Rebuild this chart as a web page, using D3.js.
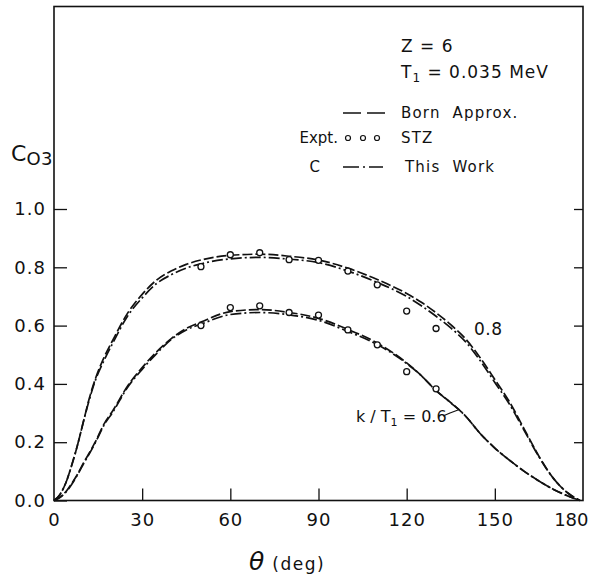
<!DOCTYPE html>
<html>
<head>
<meta charset="utf-8">
<script src="https://cdn.jsdelivr.net/npm/d3@7"></script>
<style>
  body { margin: 0; background: #fff; }
  text { font-family: "DejaVu Sans", sans-serif; fill: #111; }
</style>
</head>
<body>
<div id="chart"></div>
<script>
// Data
const yTicks = [0, 0.2, 0.4, 0.6, 0.8, 1.0];
const xTicks = [0, 30, 60, 90, 120, 150, 180];

// theta grid of the computed curves
const thetaFine = [0, 2, 4, 6, 8, 10, 12, 14, 17, 20, 25, 30, 35, 40, 45, 50, 60, 70, 80, 90, 100, 110, 120, 125, 130, 135, 140, 145, 150, 155, 160, 165, 170, 175, 179];

// k/T1 = 0.8
const born08 = [0, 0.02, 0.06, 0.12, 0.19, 0.27, 0.35, 0.415, 0.49, 0.55, 0.642, 0.707, 0.757, 0.788, 0.81, 0.825, 0.841, 0.845, 0.838, 0.825, 0.797, 0.758, 0.71, 0.68, 0.644, 0.603, 0.555, 0.49, 0.415, 0.338, 0.245, 0.152, 0.075, 0.024, 0];
const work08 = [0, 0.02, 0.06, 0.12, 0.19, 0.27, 0.345, 0.41, 0.48, 0.54, 0.632, 0.695, 0.745, 0.775, 0.797, 0.812, 0.829, 0.834, 0.828, 0.816, 0.787, 0.748, 0.70, 0.668, 0.632, 0.592, 0.545, 0.48, 0.405, 0.33, 0.24, 0.15, 0.075, 0.025, 0];

// k/T1 = 0.6
const born06 = [0, 0.011, 0.03, 0.058, 0.09, 0.128, 0.163, 0.2, 0.262, 0.308, 0.392, 0.456, 0.511, 0.556, 0.59, 0.612, 0.648, 0.655, 0.645, 0.625, 0.587, 0.54, 0.472, 0.428, 0.377, 0.336, 0.29, 0.23, 0.18, 0.138, 0.10, 0.067, 0.038, 0.015, 0];
const work06 = [0, 0.01, 0.028, 0.055, 0.088, 0.125, 0.16, 0.197, 0.258, 0.303, 0.388, 0.45, 0.505, 0.553, 0.585, 0.605, 0.638, 0.645, 0.637, 0.618, 0.58, 0.535, 0.47, 0.428, 0.377, 0.335, 0.29, 0.23, 0.18, 0.138, 0.10, 0.067, 0.038, 0.015, 0];

// STZ experimental points
const thetaExpt = [50, 60, 70, 80, 90, 100, 110, 120, 130];
const stz08 = [0.802, 0.843, 0.850, 0.826, 0.824, 0.787, 0.740, 0.650, 0.590];
const stz06 = [0.600, 0.662, 0.668, 0.645, 0.636, 0.585, 0.534, 0.442, 0.383];

// Setup
const W = 589, H = 578;
const x0 = 54, x1 = 583, yBase = 500.5, yTop = 6.5;
const svg = d3.select("#chart").append("svg")
  .attr("width", W).attr("height", H);

svg.append("rect").attr("width", W).attr("height", H).attr("fill", "#fff");

const x = d3.scaleLinear().domain([0, 180]).range([x0, x1]);
const y = d3.scaleLinear().domain([0, 1.0]).range([yBase, 209]);

// Axes (ticks pointing inward)
const gx = svg.append("g").attr("transform", `translate(0,${yBase})`)
  .call(d3.axisBottom(x).tickValues(xTicks).tickSize(-12).tickPadding(13).tickFormat(d3.format("d")));
const gy = svg.append("g").attr("transform", `translate(${x0},0)`)
  .call(d3.axisLeft(y).tickValues(yTicks).tickSize(-13).tickPadding(8).tickFormat(d3.format(".1f")));
const gr = svg.append("g").attr("transform", `translate(${x1},0)`)
  .call(d3.axisRight(y).tickValues(yTicks.slice(1)).tickSize(-9).tickFormat(""));

[gx, gy, gr].forEach(g => {
  g.select(".domain").remove();
  g.selectAll(".tick line").attr("stroke", "#111").attr("stroke-width", 1.3);
  g.selectAll(".tick text").attr("font-size", 18).attr("letter-spacing", 1)
    .attr("fill", "#111").style("font-family", "DejaVu Sans, sans-serif");
});
gx.selectAll(".tick line").filter(d => d === 0 || d === 180).remove();
// last label sits against the page edge
gx.selectAll(".tick text").filter(d => d === 180)
  .attr("text-anchor", "end").attr("letter-spacing", 0).attr("x", W - x1 - 1);

// Frame
svg.append("rect")
  .attr("x", x0).attr("y", yTop)
  .attr("width", x1 - x0).attr("height", yBase - yTop)
  .attr("fill", "none").attr("stroke", "#111").attr("stroke-width", 1.6);

// Curves
const line = d3.line()
  .x((d, i) => x(thetaFine[i]))
  .y(d => y(d))
  .curve(d3.curveMonotoneX);

const dashBorn = "10 3";
const dashWork = "11 3 2 3";

function drawCurve(vals, dash) {
  svg.append("path")
    .attr("d", line(vals))
    .attr("fill", "none")
    .attr("stroke", "#111")
    .attr("stroke-width", 1.7)
    .attr("stroke-dasharray", dash);
}
drawCurve(born08, dashBorn);
drawCurve(work08, dashWork);
drawCurve(born06, dashBorn);
drawCurve(work06, dashWork);

// Experimental points
function drawPoints(vals) {
  svg.append("g").selectAll("circle")
    .data(vals)
    .join("circle")
    .attr("cx", (d, i) => x(thetaExpt[i]))
    .attr("cy", d => y(d))
    .attr("r", 3)
    .attr("fill", "#fff")
    .attr("stroke", "#111")
    .attr("stroke-width", 1.3);
}
drawPoints(stz08);
drawPoints(stz06);

// Y label C03
const yl = svg.append("text").attr("x", 11).attr("y", 161).attr("font-size", 22);
yl.append("tspan").text("C");
yl.append("tspan").attr("font-size", 18).attr("dy", 4).attr("letter-spacing", 0.5).text("O3");

// X label
const xl = svg.append("text").attr("x", 249).attr("y", 570);
xl.append("tspan").attr("font-size", 25).attr("font-style", "italic").text("θ");
xl.append("tspan").attr("font-size", 17).attr("dx", 8).attr("letter-spacing", 1.5).text("(deg)");

// Parameters
svg.append("text").attr("x", 401).attr("y", 52).attr("font-size", 17)
  .attr("letter-spacing", 1).text("Z = 6");
const t1 = svg.append("text").attr("x", 401).attr("y", 78).attr("font-size", 17).attr("letter-spacing", 1);
t1.append("tspan").text("T");
t1.append("tspan").attr("font-size", 12).attr("dy", 4).text("1");
t1.append("tspan").attr("dy", -4).text(" = 0.035 MeV");

// Legend
const legend = [
  { pre: "", label: "Born  Approx.", y: 118, type: "born" },
  { pre: "Expt.", label: "STZ", y: 143, type: "pts" },
  { pre: "C", label: "This  Work", y: 172, type: "work" }
];
legend.forEach(d => {
  svg.append("text").attr("x", d.type === "work" ? 405 : 401).attr("y", d.y)
    .attr("font-size", 15).attr("letter-spacing", 1.2).attr("xml:space", "preserve")
    .text(d.label);
  if (d.pre) {
    svg.append("text").attr("x", d.type === "pts" ? 338 : 320).attr("y", d.y)
      .attr("text-anchor", "end").attr("font-size", 15).text(d.pre);
  }
  const ly = d.y - 5;
  if (d.type === "born") {
    svg.append("line").attr("x1", 343).attr("x2", 386).attr("y1", ly).attr("y2", ly)
      .attr("stroke", "#111").attr("stroke-width", 1.6).attr("stroke-dasharray", "18 6");
  } else if (d.type === "work") {
    svg.append("line").attr("x1", 343).attr("x2", 383).attr("y1", ly).attr("y2", ly)
      .attr("stroke", "#111").attr("stroke-width", 1.6).attr("stroke-dasharray", "16 4 2 4");
  } else {
    svg.append("g").selectAll("circle").data([348, 363, 377]).join("circle")
      .attr("cx", c => c).attr("cy", ly).attr("r", 2.5)
      .attr("fill", "#fff").attr("stroke", "#111").attr("stroke-width", 1.2);
  }
});

// Curve labels
svg.append("text").attr("x", 474).attr("y", 335).attr("font-size", 17)
  .attr("letter-spacing", 0.5).text("0.8");
const kl = svg.append("text").attr("x", 356).attr("y", 422).attr("font-size", 16);
kl.append("tspan").text("k / T");
kl.append("tspan").attr("font-size", 11).attr("dy", 4).text("1");
kl.append("tspan").attr("dy", -4).text(" = 0.6");
svg.append("path")
  .attr("d", d3.line()([[443, 416], [450, 413], [458, 410]]))
  .attr("fill", "none").attr("stroke", "#111").attr("stroke-width", 1.2);
</script>
</body>
</html>
